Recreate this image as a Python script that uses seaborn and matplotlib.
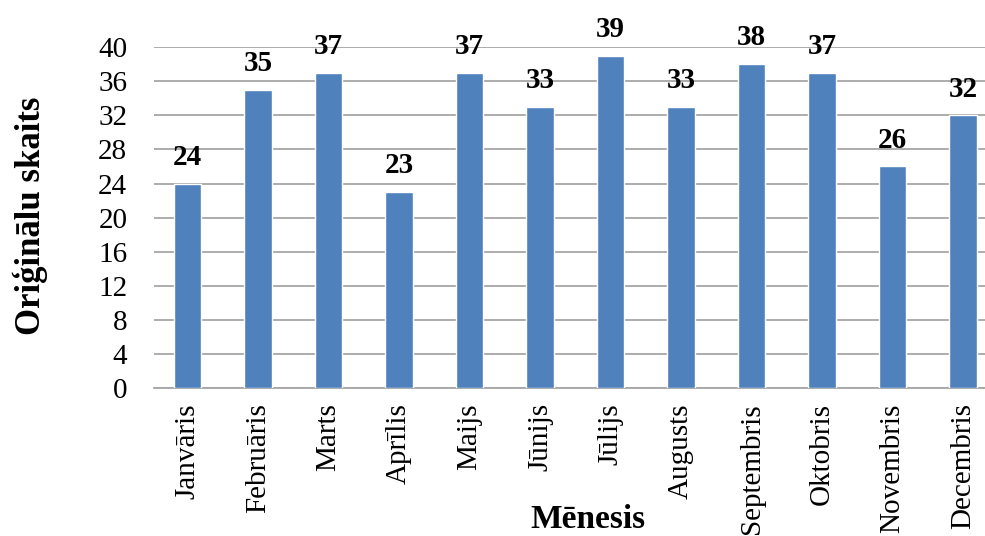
import matplotlib
matplotlib.use("Agg")
import matplotlib.pyplot as plt
import seaborn as sns
import pandas as pd

months = ["Janvāris", "Februāris", "Marts", "Aprīlis", "Maijs", "Jūnijs",
          "Jūlijs", "Augusts", "Septembris", "Oktobris", "Novembris", "Decembris"]
counts = [24, 35, 37, 23, 37, 33, 39, 33, 38, 37, 26, 32]
y_ticks = [0, 4, 8, 12, 16, 20, 24, 28, 32, 36, 40]

sns.set_style("white")
plt.rcParams["font.family"] = ["Liberation Serif", "DejaVu Serif"]
plt.rcParams["text.color"] = "black"

df = pd.DataFrame({"Mēnesis": months, "Skaits": counts})

fig = plt.figure(figsize=(9.85, 5.36), dpi=100)
ax = fig.add_axes([0.156, 0.276, 0.844, 0.636])

sns.barplot(data=df, x="Mēnesis", y="Skaits", color="#4F81BD",
            width=0.39, saturation=1, ax=ax, zorder=3)

ax.set_ylim(0, 40)
ax.set_yticks(y_ticks)
ax.set_xlim(-0.48, 11.31)
ax.yaxis.grid(True, color="#A6A6A6", linewidth=1.3, zorder=0)
ax.xaxis.grid(False)
for side in ["top", "right", "left"]:
    ax.spines[side].set_visible(False)
ax.spines["bottom"].set_color("#A6A6A6")
ax.spines["bottom"].set_linewidth(1.3)
ax.tick_params(axis="both", length=0, labelsize=21, colors="black")
ax.tick_params(axis="y", pad=19)
ax.tick_params(axis="x", pad=11)
plt.setp(ax.get_xticklabels(), rotation=90)
ax.set_xlabel("")
ax.set_ylabel("")

for patch, v in zip(ax.patches, counts):
    ax.annotate(str(v), (patch.get_x() + patch.get_width() / 2, v),
                xytext=(0, 13.5), textcoords="offset points",
                ha="center", va="baseline", fontsize=21, fontweight="bold",
                color="black")

fig.text(588 / 985, 1 - 519 / 536, "Mēnesis", ha="center", va="center",
         fontsize=24, fontweight="bold", color="black")
fig.text(30 / 985, 1 - 216 / 536, "Oriģinālu skaits", ha="center", va="center",
         rotation=90, fontsize=25, fontweight="bold", color="black")

fig.savefig("out.png", dpi=100)
